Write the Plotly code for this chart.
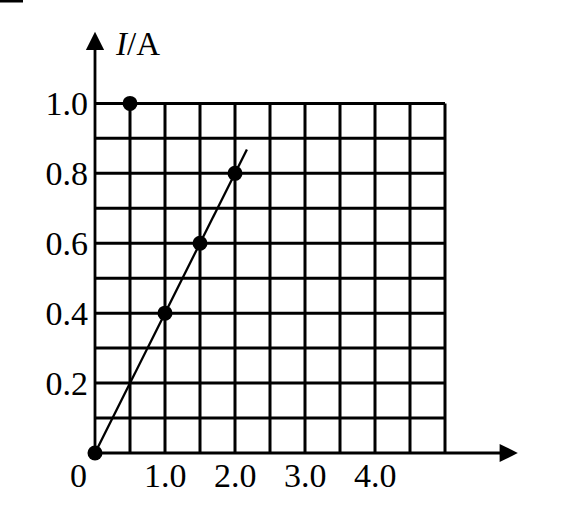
import plotly.graph_objects as go

# Data
u_points = [0.0, 0.5, 1.0, 1.5, 2.0]
i_points = [0.0, 1.0, 0.4, 0.6, 0.8]
fit_u = [0.0, 2.17]
fit_i = [0.0, 0.868]
x_tick_vals = [1.0, 2.0, 3.0, 4.0]
x_tick_text = ["1.0", "2.0", "3.0", "4.0"]
y_tick_vals = [0.2, 0.4, 0.6, 0.8, 1.0]
y_tick_text = ["0.2", "0.4", "0.6", "0.8", "1.0"]
grid_u = [0.5 * k for k in range(11)]
grid_i = [0.1 * k for k in range(11)]
u_max = 5.0
i_max = 1.0

FONT = "Liberation Serif"

fig = go.Figure()

# grid lines
gx, gy = [], []
for u in grid_u[1:]:
    gx += [u, u, None]
    gy += [0, i_max, None]
for i in grid_i[1:]:
    gx += [0, u_max, None]
    gy += [i, i, None]
fig.add_trace(go.Scatter(x=gx, y=gy, mode="lines",
                         line=dict(color="black", width=3),
                         hoverinfo="skip", showlegend=False))

# fitted line
fig.add_trace(go.Scatter(x=fit_u, y=fit_i, mode="lines",
                         line=dict(color="black", width=2.3),
                         showlegend=False))

# points
fig.add_trace(go.Scatter(x=u_points, y=i_points, mode="markers",
                         marker=dict(color="black", size=15),
                         showlegend=False, cliponaxis=False))

# axes arrows
fig.add_annotation(x=6.04, y=0, ax=0, ay=0, xref="x", yref="y",
                   axref="x", ayref="y", text="", showarrow=True,
                   arrowhead=2, arrowsize=1.3, arrowwidth=2.8,
                   arrowcolor="black")
fig.add_annotation(x=0, y=1.205, ax=0, ay=0, xref="x", yref="y",
                   axref="x", ayref="y", text="", showarrow=True,
                   arrowhead=2, arrowsize=1.3, arrowwidth=2.8,
                   arrowcolor="black")

# x tick labels
for v, t in zip(x_tick_vals, x_tick_text):
    fig.add_annotation(x=v, y=0, xref="x", yref="y", text=t,
                       showarrow=False, xanchor="center", yanchor="top",
                       yshift=-2,
                       font=dict(family=FONT, size=34, color="black"))

# axis titles
fig.add_annotation(x=0.25, y=1.17, xref="x", yref="y", text="<i>I</i>/A",
                   showarrow=False, xanchor="left", yanchor="middle",
                   font=dict(family=FONT, size=33, color="black"))
fig.add_annotation(x=5.27, y=-0.063, xref="x", yref="y", text="<i>U</i>/V",
                   showarrow=False, xanchor="left", yanchor="middle",
                   font=dict(family=FONT, size=33, color="black"))
# origin label
fig.add_annotation(x=0, y=0, xref="x", yref="y", text="0",
                   showarrow=False, xanchor="center", yanchor="top",
                   xshift=-17, yshift=-2,
                   font=dict(family=FONT, size=34, color="black"))

# small mark at top-left
fig.add_shape(type="line", xref="paper", yref="paper",
              x0=-95 / 427, x1=-72 / 427, y0=1 + 29 / 423, y1=1 + 29 / 423,
              line=dict(color="black", width=3))

fig.update_xaxes(range=[0, 6.1], showgrid=False, zeroline=False,
                 showline=False, showticklabels=False, ticks="")
fig.update_yaxes(range=[0, 1.21], showgrid=False, zeroline=False,
                 showline=False, tickvals=y_tick_vals, ticktext=y_tick_text,
                 ticks="", ticklabelstandoff=6,
                 tickfont=dict(family=FONT, size=34, color="black"))

fig.update_layout(width=562, height=510,
                  margin=dict(l=95, r=40, t=30, b=57),
                  plot_bgcolor="white", paper_bgcolor="white")

fig.write_html("out.html", config={"displayModeBar": False},
               post_script="document.body.style.margin='0';document.body.style.overflow='hidden';")
